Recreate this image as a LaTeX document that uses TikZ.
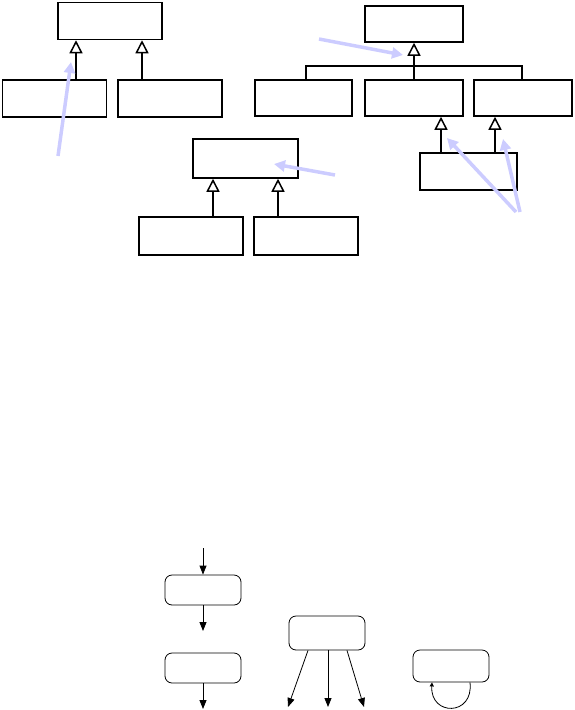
\documentclass[tikz,border=0pt]{standalone}
\usepackage{tikz}
\usetikzlibrary{arrows.meta, positioning, calc}
\definecolor{note-blue}{RGB}{204, 204, 255}

\begin{document}
\begin{tikzpicture}[
  x=1pt, y=-1pt,
  cls/.style={rectangle,draw,line width=1.5pt,inner sep=0pt,minimum width=104pt,minimum height=37pt},
  inh/.style={-{Triangle[open,length=13pt,width=13pt]},line width=1.5pt},
  tree/.style={line width=1.5pt},
  note/.style={-{Triangle[length=11pt,width=11pt]},line width=3.5pt,note-blue},
  state/.style={rectangle,draw,rounded corners=7pt,line width=0.8pt,inner sep=0pt,minimum width=76pt,minimum height=30pt},
  flow/.style={-{Triangle[length=9pt,width=7pt]},line width=0.8pt}
]
  \useasboundingbox (0,0) rectangle (574,710);

  % two subclasses, one superclass
  \node[cls]              (base)   at (110,21)    {};
  \node[cls]              (subA)   at (54.5,98.5) {};
  \node[cls]              (subB)   at (170,98.5)  {};
  \draw[inh] ([xshift=21.5pt]subA.north) -- ([xshift=21.5pt]subA.north |- base.south);
  \draw[inh] ([xshift=-28pt]subB.north)  -- ([xshift=-28pt]subB.north |- base.south);

  % shared tree
  \node[cls, minimum width=98pt, minimum height=36pt] (root)  at (414,24)    {};
  \node[cls, minimum width=97pt, minimum height=36pt] (kidA)  at (303.5,98)  {};
  \node[cls, minimum width=98pt, minimum height=36pt] (kidB)  at (414,98)    {};
  \node[cls, minimum width=98pt, minimum height=36pt] (kidC)  at (523,98)    {};
  \node[cls, minimum width=97pt, minimum height=37pt] (multi) at (468.5,171.5) {};
  \coordinate (joint) at (414,66);
  \draw[tree] ([xshift=2.5pt]kidA.north) |- (joint) -| ([xshift=-1pt]kidC.north);
  \draw[inh]  (kidB.north) -- (root.south);
  \draw[inh]  ([xshift=-27.5pt]multi.north) -- ([xshift=-27.5pt]multi.north |- kidB.south);
  \draw[inh]  ([xshift=26.5pt]multi.north)  -- ([xshift=26.5pt]multi.north |- kidC.south);

  % middle
  \node[cls, minimum width=105pt, minimum height=39pt] (mid)  at (245.5,158.5) {};
  \node[cls, minimum height=38pt] (midA) at (191,236) {};
  \node[cls, minimum height=38pt] (midB) at (306,236) {};
  \draw[inh] ([xshift=22pt]midA.north)  -- ([xshift=22pt]midA.north |- mid.south);
  \draw[inh] ([xshift=-28pt]midB.north) -- ([xshift=-28pt]midB.north |- mid.south);

  % pointers
  \coordinate (n1) at (58,156);
  \coordinate (n2) at (319,39);
  \coordinate (n3) at (335,175);
  \coordinate (n4) at (516,212);
  \coordinate (n5) at (520,212);
  \draw[note] (n1) -- (71,62);
  \draw[note] (n2) -- (403,55);
  \draw[note] (n3) -- (274,164);
  \draw[note] (n4) -- (447,138);
  \draw[note] (n5) -- (503,139);

  % states
  \node[state] (sOne)   at (203,590) {};
  \node[state] (sTwo)   at (203,668) {};
  \node[state, minimum height=34pt] (sFork) at (327,633) {};
  \node[state, minimum height=32pt] (sSelf) at (451,666) {};
  \coordinate (in1)  at (203,548);
  \coordinate (out1) at (203,631);
  \coordinate (out2) at (203,709);
  \coordinate (fA)   at (288,707);
  \coordinate (fB)   at (328,707);
  \coordinate (fC)   at (364,707);
  \draw[flow] (in1) -- (sOne.north);
  \draw[flow] (sOne.south) -- (out1);
  \draw[flow] (sTwo.south) -- (out2);
  \draw[flow] ([xshift=-19pt]sFork.south) -- (fA);
  \draw[flow] ([xshift=1pt]sFork.south)   -- (fB);
  \draw[flow] ([xshift=20pt]sFork.south)  -- (fC);
  \draw[-{Triangle[length=4pt,width=4pt]},line width=0.8pt]
    ([xshift=19pt]sSelf.south) .. controls +(4,34) and +(-2,34) .. ([xshift=-19pt]sSelf.south);
\end{tikzpicture}
\end{document}
